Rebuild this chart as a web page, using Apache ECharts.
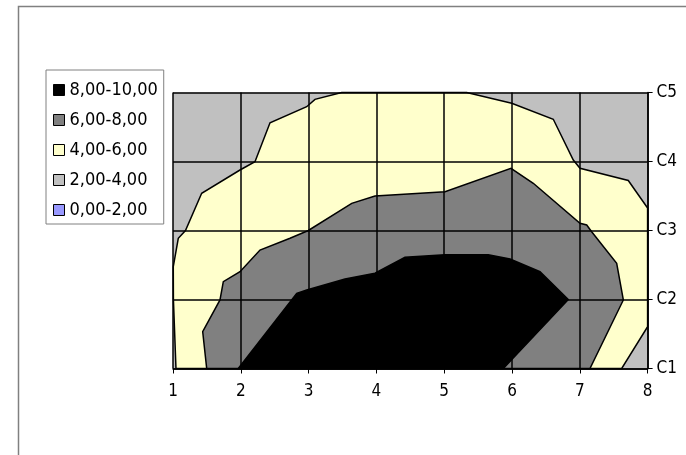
<!DOCTYPE html>
<html><head><meta charset="utf-8">
<script src="https://cdn.jsdelivr.net/npm/echarts@6/dist/echarts.min.js"></script>
<style>html,body{margin:0;padding:0;background:#fff}#c{width:686px;height:455px}</style>
</head><body><div id="c"></div>
<script>
const xTickLabels = ['1','2','3','4','5','6','7','8'];
const yTickLabels = ['C1','C2','C3','C4','C5'];
const bandNames = ['8,00-10,00','6,00-8,00','4,00-6,00','2,00-4,00','0,00-2,00'];
const bandColors = ['#000000','#808080','#FFFFCC','#C0C0C0','#9999FF'];

// Contour band regions, in data units (x: column 1..8, y: row C1..C5 as 1..5)
const band2to4 = [[1,1],[8,1],[8,5],[1,5]];
const band4to6 = [[1.044,1.0],[1.006,2.0],[1.004,2.475],[1.078,2.887],[1.184,3.0],[1.423,3.539],[1.988,3.877],[2.209,3.997],[2.431,4.562],[2.972,4.794],[3.094,4.901],[3.488,5.0],[5.332,5.0],[5.996,4.843],[6.609,4.612],[6.904,4.022],[7.003,3.901],[7.715,3.725],[8.0,3.326],[8.0,1.606],[7.618,1.0]];
const band6to8 = [[1.497,1.0],[1.438,1.533],[1.693,1.993],[1.742,2.258],[1.988,2.403],[2.283,2.717],[2.726,2.887],[2.996,3.0],[3.636,3.394],[3.979,3.5],[5.012,3.562],[5.985,3.901],[6.314,3.684],[7.003,3.104],[7.102,3.080],[7.175,2.983],[7.544,2.525],[7.642,1.993],[7.150,1.0]];
const band8to10 = [[1.963,1.0],[2.825,2.090],[2.972,2.138],[3.537,2.297],[3.979,2.380],[4.422,2.612],[5.012,2.649],[5.650,2.649],[5.971,2.587],[6.413,2.403],[6.830,2.0],[5.872,1.0]];
const band0to2 = [];

const FONT = '"Liberation Sans Narrow", "Arial Narrow", "DejaVu Sans Condensed", sans-serif';

function bandSeries(name, color, pts, z, stroke) {
  return {
    type: 'custom', name: name, z: z,
    data: pts,
    encode: { x: 0, y: 1 },
    itemStyle: { color: color, borderColor: '#000', borderWidth: 1 },
    silent: true,
    renderItem: function (params, api) {
      if (params.dataIndex !== 0) return null;
      const p = pts.map(function (d) { return api.coord(d); });
      return { type: 'polygon', shape: { points: p },
        style: { fill: color, stroke: stroke ? '#000' : null, lineWidth: 1.5 } };
    }
  };
}

const chart = echarts.init(document.getElementById('c'), null, { renderer: 'canvas' });
chart.setOption({
  animation: false,
  backgroundColor: '#ffffff',
  graphic: [{ type: 'rect', z: 100, shape: { x: 18.5, y: 6.5, width: 700, height: 500 },
    style: { fill: 'none', stroke: '#808080', lineWidth: 1.5 } }],
  grid: { left: 173, right: 38.4, top: 92.5, bottom: 86.5, containLabel: false },
  legend: {
    orient: 'vertical', left: 46, top: 70, selectedMode: false,
    backgroundColor: '#fff', borderColor: '#808080', borderWidth: 1,
    padding: [11, 6, 5, 7], itemWidth: 11, itemHeight: 11, itemGap: 12, icon: 'rect',
    textStyle: { fontFamily: FONT, fontSize: 18, lineHeight: 14, color: '#000' },
    data: bandNames.map(function (n, i) {
      return { name: n, itemStyle: { color: bandColors[i], borderColor: '#000', borderWidth: 1 } };
    })
  },
  xAxis: {
    type: 'value', min: 1, max: 8, interval: 1, z: 5,
    axisLine: { show: true, onZero: false, lineStyle: { color: '#000', width: 1.5 } },
    axisTick: { show: true, length: 5, lineStyle: { color: '#000' } },
    axisLabel: { margin: 15, color: '#000', fontFamily: FONT, fontSize: 17,
      formatter: function (v) { return xTickLabels[v - 1]; } },
    splitLine: { show: true, lineStyle: { color: '#000', width: 1.5 } }
  },
  yAxis: {
    type: 'value', position: 'right', min: 1, max: 5, interval: 1, z: 5,
    axisLine: { show: true, onZero: false, lineStyle: { color: '#000', width: 1.5 } },
    axisTick: { show: true, length: 5, lineStyle: { color: '#000' } },
    axisLabel: { margin: 9, color: '#000', fontFamily: FONT, fontSize: 17,
      formatter: function (v) { return yTickLabels[v - 1]; } },
    splitLine: { show: true, lineStyle: { color: '#000', width: 1.5 } }
  },
  series: [
    bandSeries(bandNames[3], bandColors[3], band2to4, 1, false),
    bandSeries(bandNames[2], bandColors[2], band4to6, 1.1, true),
    bandSeries(bandNames[1], bandColors[1], band6to8, 1.2, true),
    bandSeries(bandNames[0], bandColors[0], band8to10, 1.3, true),
    bandSeries(bandNames[4], bandColors[4], band0to2, 1.4, true)
  ]
});
</script></body></html>
